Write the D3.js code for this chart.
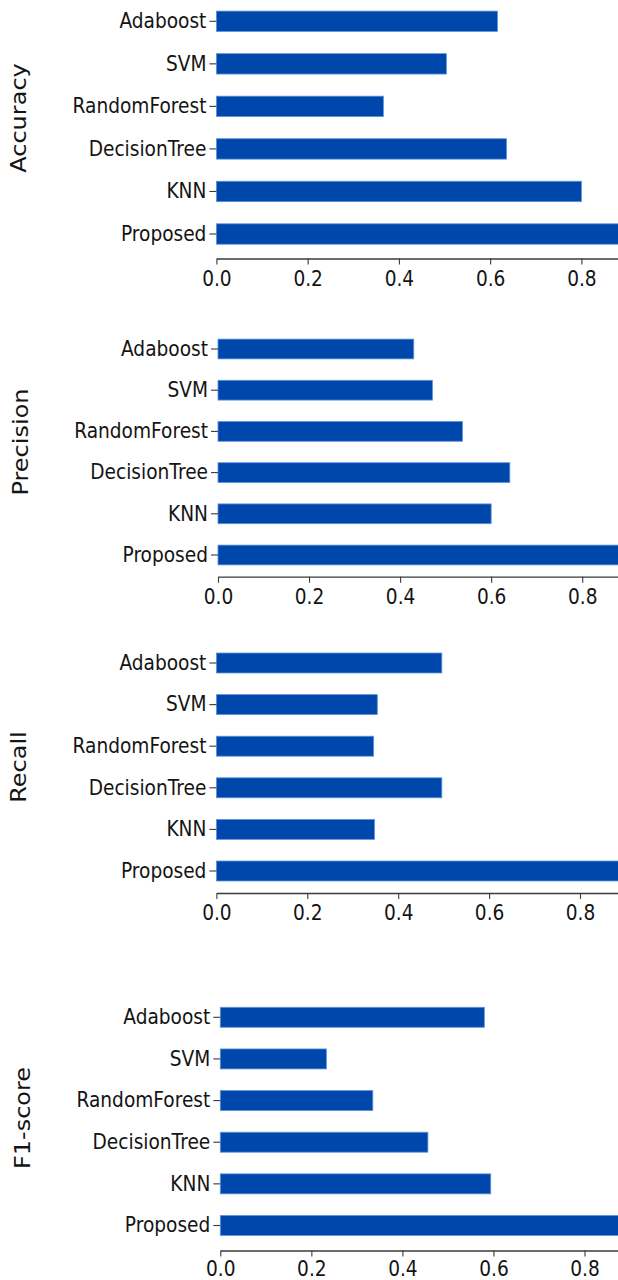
<!DOCTYPE html>
<html>
<head>
<meta charset="utf-8">
<script src="https://cdn.jsdelivr.net/npm/d3@7/dist/d3.min.js"></script>
<style>
  html, body { margin: 0; padding: 0; background: #ffffff; }
  svg { display: block; }
</style>
</head>
<body>
<svg id="chart" width="618" height="1280"></svg>
<script>
// Classifier comparison: one horizontal bar panel per metric
const categories = ["Adaboost", "SVM", "RandomForest", "DecisionTree", "KNN", "Proposed"];
const accuracy  = [0.616, 0.504, 0.366, 0.636, 0.800, 0.950];
const precision = [0.430, 0.471, 0.537, 0.641, 0.600, 0.950];
const recall    = [0.496, 0.354, 0.346, 0.496, 0.348, 0.950];
const f1score   = [0.580, 0.233, 0.335, 0.456, 0.594, 0.950];
const metricNames = ["Accuracy", "Precision", "Recall", "F1-score"];
const xTickValues = [0.0, 0.2, 0.4, 0.6, 0.8];

const series = [accuracy, precision, recall, f1score];

// Panel geometry: first/last category centre, x-axis line, zero and 0.8 positions,
// vertical centre of the metric label and gap below the tick marks
const panels = [
  { first: 21.3,   last: 234,    axisY: 258.5,  x0: 216.4, x08: 581.4, labelY: 118,  pad: 6.5 },
  { first: 349,    last: 555,    axisY: 576.7,  x0: 218.0, x08: 582.2, labelY: 442,  pad: 6.5 },
  { first: 663,    last: 871,    axisY: 893,    x0: 216.4, x08: 580.0, labelY: 767,  pad: 6.5 },
  { first: 1017.3, last: 1225.5, axisY: 1250.5, x0: 220.3, x08: 584.5, labelY: 1118, pad: 4.5 }
];

const barFill = "#0047ab";
const barEdge = "#5d94dc";
const inkColor = "#141414";
const axisColor = "#3a3a3a";
const labelFont = "'DejaVu Sans', 'Liberation Sans', sans-serif";
const squeeze = 0.885; // narrow glyph width

const svg = d3.select("#chart");

panels.forEach((p, i) => {
  const values = series[i];
  const step = (p.last - p.first) / (categories.length - 1);
  const unit = (p.x08 - p.x0) / 0.8;

  const x = d3.scaleLinear().domain([0, 1.0]).range([p.x0, p.x0 + unit]);
  const y = d3.scaleBand()
    .domain(categories)
    .range([p.first - step / 2, p.last + step / 2])
    .paddingInner(0.52)
    .paddingOuter(0.26);

  const g = svg.append("g");

  // bars
  g.selectAll("rect.bar")
    .data(categories.map((c, k) => ({ c, v: values[k] })))
    .join("rect")
    .attr("class", "bar")
    .attr("x", x(0))
    .attr("y", d => y(d.c))
    .attr("width", d => x(d.v) - x(0))
    .attr("height", y.bandwidth())
    .attr("fill", barFill)
    .attr("stroke", barEdge)
    .attr("stroke-width", 0.8);

  // category axis (no spine)
  const yAxis = g.append("g")
    .attr("transform", `translate(${p.x0},0)`)
    .call(d3.axisLeft(y).tickSize(7).tickPadding(3));
  yAxis.select(".domain").remove();
  yAxis.selectAll(".tick line").attr("stroke", axisColor).attr("stroke-width", 1.1);
  yAxis.selectAll(".tick text")
    .attr("fill", inkColor)
    .style("font-family", labelFont)
    .style("font-size", "21px")
    .attr("x", -10 / squeeze)
    .attr("transform", `scale(${squeeze},1)`);

  // value axis
  const xAxis = g.append("g")
    .attr("transform", `translate(0,${p.axisY})`)
    .call(d3.axisBottom(x).tickValues(xTickValues).tickFormat(d3.format(".1f"))
      .tickSize(6).tickSizeOuter(0).tickPadding(p.pad));
  xAxis.select(".domain").attr("stroke", axisColor).attr("stroke-width", 1.3);
  xAxis.selectAll(".tick line").attr("stroke", axisColor).attr("stroke-width", 1.1);
  xAxis.selectAll(".tick text")
    .attr("fill", inkColor)
    .style("font-family", labelFont)
    .style("font-size", "21px")
    .attr("transform", `scale(${squeeze},1)`)
    .attr("x", 0);

  // metric label
  g.append("text")
    .attr("transform", `translate(${p.x0 - 190},${p.labelY}) scale(${squeeze},1) rotate(-90)`)
    .attr("text-anchor", "middle")
    .attr("fill", inkColor)
    .style("font-family", labelFont)
    .style("font-size", "24px")
    .text(metricNames[i]);
});
</script>
</body>
</html>
